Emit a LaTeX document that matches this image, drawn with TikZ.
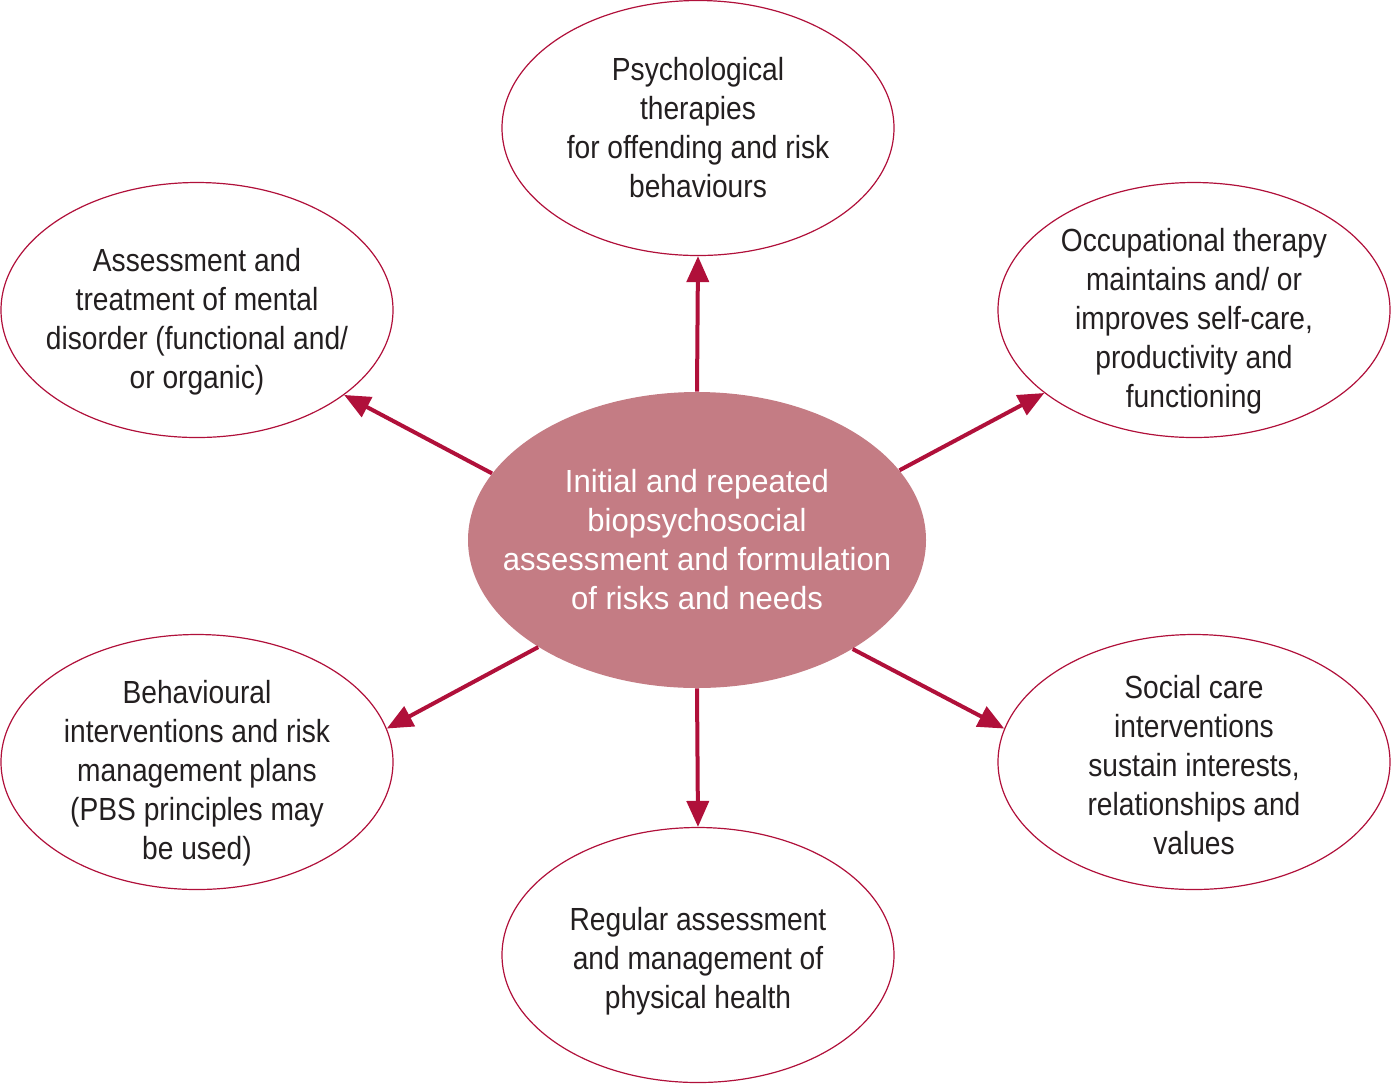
\documentclass[tikz,border=0pt]{standalone}
\usepackage{fontspec}
\setmainfont[FakeStretch=0.88]{Liberation Sans}
\newfontfamily\midfont[FakeStretch=0.97]{Liberation Sans}
\usetikzlibrary{shapes.geometric,arrows.meta}
\definecolor{crimson}{RGB}{176,16,58}
\definecolor{rosefill}{RGB}{196,124,132}
\definecolor{inkgrey}{RGB}{35,31,32}
\newcommand\dropby[1]{\rule{0pt}{#1}}
\begin{document}
\begin{tikzpicture}[x=0.5pt,y=-0.5pt,
    every node/.style={ellipse,inner xsep=-30pt,inner ysep=-10pt,align=center,
      font=\fontsize{16}{19.5}\selectfont},
    outer/.style={draw=crimson,line width=0.6pt,text=inkgrey,
      minimum width=196pt,minimum height=127.5pt},
    hub/.style={fill=rosefill,text=white,font=\midfont\fontsize{16}{19.5}\selectfont,
      minimum width=229pt,minimum height=148pt},
    arr/.style={draw=crimson,line width=2pt,-{Triangle[length=13pt,width=11pt]}}]
      \useasboundingbox (0,0) rectangle (1392,1084);
      \draw
        (697,540) node[hub] (mid){Initial and repeated\\biopsychosocial\\assessment and formulation\\of risks and needs}
        (698,128) node[outer] (top){Psychological\\therapies\\for offending and risk\\behaviours}
        (197,310) node[outer] (upleft){\dropby{23pt}Assessment and\\treatment of mental\\disorder (functional and/\\or organic)}
        (1194,310) node[outer] (upright){\dropby{23pt}Occupational therapy\\maintains and/ or\\improves self-care,\\productivity and\\functioning}
        (197,762) node[outer] (lowleft){\dropby{23pt}Behavioural\\interventions and risk\\management plans\\(PBS principles may\\be used)}
        (1194,762) node[outer] (lowright){\dropby{15pt}Social care\\interventions\\sustain interests,\\relationships and\\values}
        (698,955) node[outer] (bottom){\dropby{18pt}Regular assessment\\and management of\\physical health};
      \begin{scope}[arr]
        \draw (mid.north) to (top.south);
        \draw (mid.162) to (upleft.330);
        \draw (mid.19) to (upright.209);
        \draw (mid.214) to (lowleft.10);
        \draw (mid.325) to (lowright.170);
        \draw (mid.south) to (bottom.north);
      \end{scope}
    \end{tikzpicture}
\end{document}
